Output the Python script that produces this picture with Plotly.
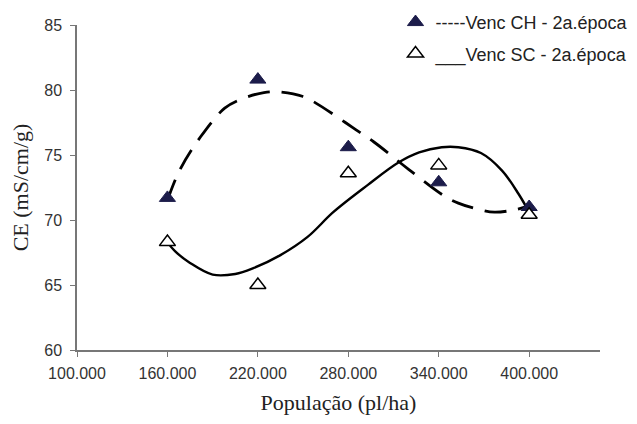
import plotly.graph_objects as go

# Observed points
pop = [160000, 220000, 280000, 340000, 400000]
ce_ch = [71.7, 80.8, 75.6, 72.9, 71.0]
ce_sc = [68.3, 65.0, 73.6, 74.2, 70.4]

# Trend curves
curve_ch_x = [160000, 168000, 182000, 198000, 209000, 224000, 234000, 250000, 257000,
              273000, 283000, 297000, 320000, 343000, 353000, 367000, 377000, 391000, 400000]
curve_ch_y = [71.5, 73.8, 76.4, 78.6, 79.3, 79.8, 79.85, 79.5, 79.1,
              77.9, 77.1, 76.0, 73.9, 71.9, 71.3, 70.8, 70.6, 70.8, 71.1]

curve_sc_x = [160000, 165000, 175000, 190000, 205000, 217000, 235000, 253000, 270000,
              293000, 313000, 327000, 342000, 353000, 368000, 382000, 393000, 400000]
curve_sc_y = [68.3, 67.6, 66.7, 65.8, 65.85, 66.3, 67.3, 68.7, 70.6,
              72.7, 74.4, 75.2, 75.6, 75.6, 75.15, 73.8, 72.0, 70.6]

x_ticks = [100000, 160000, 220000, 280000, 340000, 400000]
x_tick_text = ["100.000", "160.000", "220.000", "280.000", "340.000", "400.000"]
y_ticks = [60, 65, 70, 75, 80, 85]

fig = go.Figure()

fig.add_trace(go.Scatter(x=curve_ch_x, y=curve_ch_y, mode="lines",
                         line=dict(color="black", width=2.8, dash="22px,12px", shape="spline"),
                         showlegend=False, hoverinfo="skip"))
fig.add_trace(go.Scatter(x=curve_sc_x, y=curve_sc_y, mode="lines",
                         line=dict(color="black", width=2.4, shape="spline"),
                         showlegend=False, hoverinfo="skip"))

fig.add_trace(go.Scatter(x=pop, y=ce_ch, mode="markers", name="-----Venc CH - 2a.época",
                         legendgroup="a",
                         marker=dict(symbol="triangle-up", size=14, color="#1c1c4a",
                                     line=dict(color="#1c1c4a", width=1))))
fig.add_trace(go.Scatter(x=pop, y=ce_sc, mode="markers", name="___Venc SC - 2a.época",
                         legendgroup="b",
                         marker=dict(symbol="triangle-up", size=14, color="white",
                                     line=dict(color="black", width=1.5))))

fig.update_layout(
    width=637, height=424,
    margin=dict(l=77, r=37, t=25, b=74, autoexpand=False),
    plot_bgcolor="white", paper_bgcolor="white",
    font=dict(family="Arial, Liberation Sans", size=16, color="#333333"),
    showlegend=True,
    legend=dict(x=0.609, y=1.065, xanchor="left", yanchor="top",
                bgcolor="rgba(0,0,0,0)", tracegroupgap=5, itemwidth=30,
                font=dict(family="Arial, Liberation Sans", size=18, color="#222222")),
    xaxis=dict(range=[100000, 447000], tickvals=x_ticks, ticktext=x_tick_text,
               showgrid=False, zeroline=False, showline=True, linecolor="#777777",
               linewidth=1.5, ticks="outside", ticklen=5, tickcolor="#777777",
               ticklabelstandoff=3,
               title=dict(text="População (pl/ha)", standoff=14,
                          font=dict(family="Liberation Serif, Times New Roman", size=22, color="#222222"))),
    yaxis=dict(range=[60, 85], tickvals=y_ticks,
               showgrid=False, zeroline=False, showline=True, linecolor="#777777",
               linewidth=1.5, ticks="outside", ticklen=5, tickcolor="#777777",
               ticklabelstandoff=5,
               title=dict(text="CE (mS/cm/g)", standoff=10,
                          font=dict(family="Liberation Serif, Times New Roman", size=22, color="#222222"))),
)

fig.write_html("out.html")
